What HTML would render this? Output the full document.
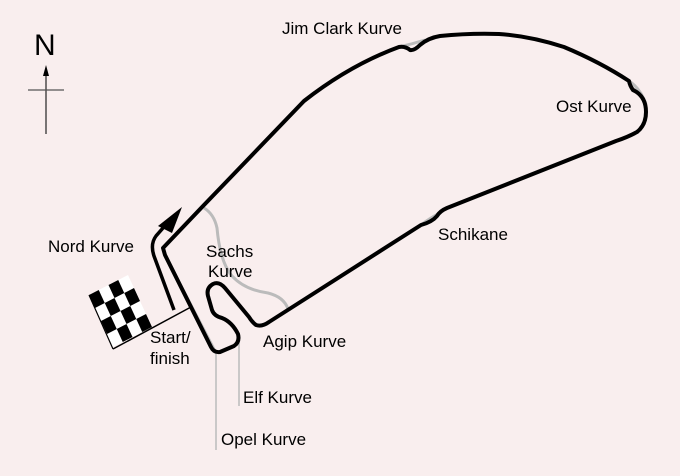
<!DOCTYPE html>
<html><head><style>
html,body{margin:0;padding:0;background:#f9eeee;}
svg{display:block;}
text{font-family:"Liberation Sans",sans-serif;font-size:17px;fill:#000;}
</style></head><body>
<svg width="680" height="476" viewBox="0 0 680 476">
<rect width="680" height="476" fill="#f9eeee"/>
<path d="M204,208 Q214,214 217,228 Q220,262 232,276 Q245,290 268,293 Q284,297 288,309" fill="none" stroke="#bbb" stroke-width="3"/>
<path d="M399,47 Q412,44 425,40 M629,81 Q640,88 646,104 M421,225 Q430,218 440,213" fill="none" stroke="#bbb" stroke-width="3"/>
<line x1="167" y1="258" x2="216" y2="352" stroke="#bbb" stroke-width="2"/>
<line x1="216" y1="352" x2="216" y2="450" stroke="#bbb" stroke-width="1.5"/>
<line x1="239" y1="336" x2="239" y2="406" stroke="#bbb" stroke-width="1.5"/>
<path d="M165,255 L163,248 L204,205 L304,101 Q350,65 399,47 Q405,46 410,50 Q414,51 420,45 Q428,38 440,36 Q470,33 499,34 Q530,36 564,47 Q600,62 629,81 Q630,86 633,90 Q646,96 646,112 Q646,125 637,132 Q628,137 616,141 L447,208 Q440,211 437,216 Q432,222 421,225 L269,322 Q262,327 256,325 Q252,322 249,317 L225,288 Q219,281 213,284 Q206,288 208,296 L212,310 Q214,316 222,318 Q232,322 238,334 Q240,342 234,346 L220,352 Q214,353 211,347 Z" fill="none" stroke="#000" stroke-width="4" stroke-linejoin="round"/>
<path d="M174,310 L154,256 Q150,244 156,236 L170,220" fill="none" stroke="#000" stroke-width="3.5"/>
<polygon points="182,207 158,226 172,233" fill="#000"/>
<g transform="matrix(39,-20,24,52,89,295)">
<rect x="0" y="0" width="1" height="1" fill="#fff"/>
<rect x="0" y="0" width="0.25" height="0.25" fill="#000"/>
<rect x="0.5" y="0" width="0.25" height="0.25" fill="#000"/>
<rect x="0.25" y="0.25" width="0.25" height="0.25" fill="#000"/>
<rect x="0.75" y="0.25" width="0.25" height="0.25" fill="#000"/>
<rect x="0" y="0.5" width="0.25" height="0.25" fill="#000"/>
<rect x="0.5" y="0.5" width="0.25" height="0.25" fill="#000"/>
<rect x="0.25" y="0.75" width="0.25" height="0.25" fill="#000"/>
<rect x="0.75" y="0.75" width="0.25" height="0.25" fill="#000"/>
</g>
<line x1="113" y1="349" x2="191" y2="307" stroke="#000" stroke-width="1.5"/>
<line x1="89" y1="295" x2="113" y2="349" stroke="#000" stroke-width="1.2"/>
<text x="34" y="55" style="font-size:30px">N</text>
<line x1="46" y1="72" x2="46" y2="134" stroke="#333" stroke-width="1.3"/>
<line x1="28" y1="90" x2="64" y2="90" stroke="#555" stroke-width="1.2"/>
<polygon points="46,65 43,76 49,76" fill="#000"/>
<text x="282" y="34">Jim Clark Kurve</text>
<text x="556" y="112">Ost Kurve</text>
<text x="438" y="240">Schikane</text>
<text x="48" y="252">Nord Kurve</text>
<text x="206" y="257">Sachs</text>
<text x="208" y="277">Kurve</text>
<text x="150" y="343">Start/</text>
<text x="150" y="364">finish</text>
<text x="263" y="347">Agip Kurve</text>
<text x="243" y="403">Elf Kurve</text>
<text x="221" y="445">Opel Kurve</text>
</svg>
</body></html>
